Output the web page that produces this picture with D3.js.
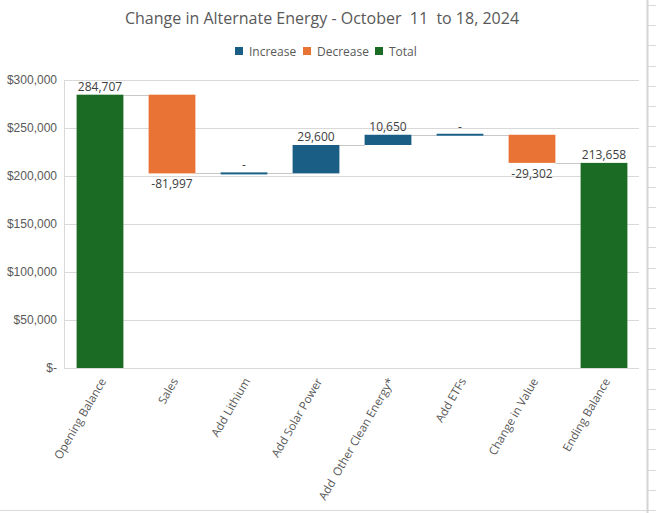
<!DOCTYPE html>
<html><head><meta charset="utf-8">
<script src="https://cdn.jsdelivr.net/npm/d3@7"></script>
<style>
html,body{margin:0;padding:0;background:#fff;}
svg{display:block;font-family:"Open Sans","Noto Sans",sans-serif;}
</style></head>
<body><svg id="c" width="656" height="513"></svg>
<script>
const title = "Change in Alternate Energy - October  11  to 18, 2024";
const categories = ["Opening Balance","Sales","Add Lithium","Add Solar Power","Add  Other Clean Energy*","Add ETFs","Change in Value","Ending Balance"];
const values = [284707, -81997, 0, 29600, 10650, 0, -29302, 213658];
const kinds = ["total","decrease","increase","increase","increase","increase","decrease","total"];
const legendLabels = ["Increase","Decrease","Total"];
const yTicks = [0, 50000, 100000, 150000, 200000, 250000, 300000];

const colors = {increase:"#1a5e86", decrease:"#e97334", total:"#1b6b25"};
const legendKinds = ["increase","decrease","total"];

const svg = d3.select("#c");
const W = 656, H = 513;
const plot = {l:64, r:640, t:80, b:368};

// spreadsheet background bits on right
const bg = svg.append("g");
bg.append("line").attr("x1",647.5).attr("x2",647.5).attr("y1",0).attr("y2",H).attr("stroke","#d4d4d4").attr("stroke-width",2);
bg.append("line").attr("x1",0).attr("x2",647).attr("y1",510.5).attr("y2",510.5).attr("stroke","#d9d9d9");
for (let yy=5; yy<H; yy+=20.2) {
  bg.append("line").attr("x1",648).attr("x2",W).attr("y1",Math.round(yy)+0.5).attr("y2",Math.round(yy)+0.5).attr("stroke","#d9d9d9");
}

// compute waterfall
let run = 0;
const data = categories.map((c,i)=>{
  let s,e;
  if (kinds[i]==="total"){ s=0; e=values[i]; run=values[i]; }
  else { s=run; e=run+values[i]; run=e; }
  return {cat:c, v:values[i], kind:kinds[i], s, e, lo:Math.min(s,e), hi:Math.max(s,e)};
});

const x = d3.scaleBand().domain(categories).range([plot.l, plot.r]).paddingInner(0.35).paddingOuter(0.175);
const y = d3.scaleLinear().domain([0,300000]).range([plot.b, plot.t]);

// gridlines
svg.append("g").selectAll("line").data(yTicks).join("line")
  .attr("x1",plot.l).attr("x2",639).attr("y1",d=>Math.round(y(d))+0.5).attr("y2",d=>Math.round(y(d))+0.5)
  .attr("stroke","#d9d9d9");
svg.append("line").attr("x1",plot.l+0.5).attr("x2",plot.l+0.5).attr("y1",y(300000)).attr("y2",plot.b+0.5).attr("stroke","#d9d9d9");

// y axis
const yAxis = d3.axisLeft(y).tickValues(yTicks).tickSize(0).tickPadding(7)
  .tickFormat(d=> d===0 ? "$-" : "$"+d3.format(",")(d));
const ya = svg.append("g").attr("transform",`translate(${plot.l},0)`).call(yAxis);
ya.select(".domain").remove();
ya.selectAll("text").attr("fill","#595959").style("font-size","12px");

// connectors
const conn = svg.append("g");
for (let i=0;i<data.length-1;i++){
  const lvl = data[i].e;
  conn.append("line").attr("x1",x(data[i].cat)+x.bandwidth()).attr("x2",x(data[i+1].cat))
    .attr("y1",Math.round(y(lvl))+0.5).attr("y2",Math.round(y(lvl))+0.5)
    .attr("stroke","#c8c8c8").attr("stroke-width",1);
}

// bars
svg.append("g").selectAll("rect").data(data).join("rect")
  .attr("x",d=>x(d.cat)).attr("width",x.bandwidth())
  .attr("y",d=> d.v===0 ? y(d.hi)-1 : y(d.hi))
  .attr("height",d=> d.v===0 ? 2 : y(d.lo)-y(d.hi))
  .attr("fill",d=>colors[d.kind]);

// labels
const fmt = v => v===0 ? "-" : (v<0?"-":"") + d3.format(",")(Math.abs(v));
svg.append("g").selectAll("text").data(data).join("text")
  .attr("x",d=>x(d.cat)+x.bandwidth()/2)
  .attr("y",d=> d.kind==="decrease" ? y(d.lo)+15 : y(d.hi)-4)
  .attr("text-anchor","middle").attr("fill","#404040").style("font-size","12px")
  .text(d=>fmt(d.v));

// x labels
svg.append("g").selectAll("text").data(categories).join("text")
  .attr("transform",d=>`translate(${x(d)+x.bandwidth()/2+3},${plot.b+11}) rotate(-60)`)
  .attr("text-anchor","end").attr("dy","0.35em").attr("fill","#595959").style("font-size","11.6px")
  .style("white-space","pre")
  .text(d=>d);

// title
svg.append("text").attr("x",322).attr("y",24).attr("text-anchor","middle")
  .attr("fill","#595959").style("font-size","16px").style("white-space","pre").text(title);

// legend
const lg = svg.append("g");
const lx = [235, 303, 375];
legendKinds.forEach((k,i)=>{
  lg.append("rect").attr("x",lx[i]).attr("y",47).attr("width",8).attr("height",8).attr("fill",colors[k]);
  lg.append("text").attr("x",lx[i]+14).attr("y",55.5).attr("fill","#595959").style("font-size","12px").text(legendLabels[i]);
});
</script></body></html>
